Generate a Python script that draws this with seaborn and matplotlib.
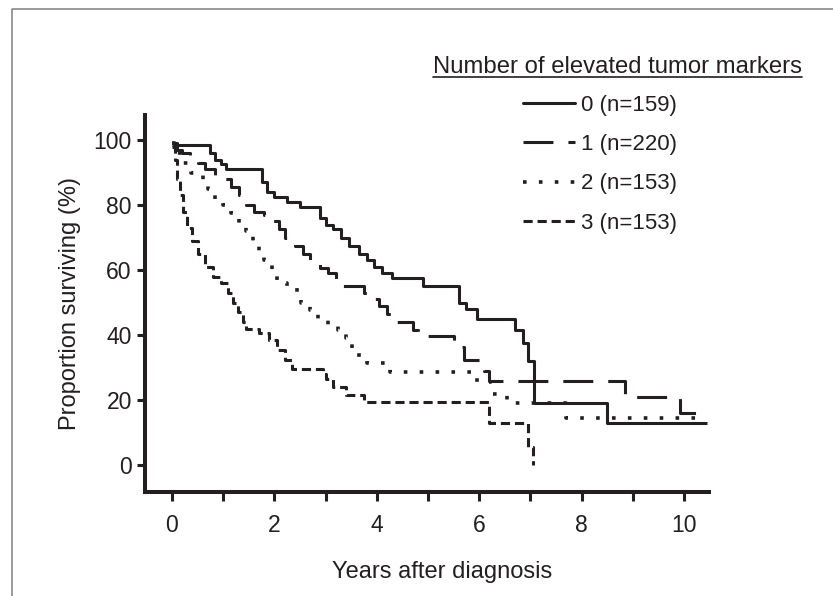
#!/usr/bin/env python3
"""
Kaplan-Meier style survival curves by number of elevated tumor markers.
"""

import numpy as np
import pandas as pd
import matplotlib
matplotlib.use('Agg')
import matplotlib.pyplot as plt
from matplotlib.lines import Line2D
import seaborn as sns

# Step curves: time (years) of each step and survival (%) after it
t0 = [0, 0.75, 0.85, 0.95, 1.05, 1.75, 1.85, 2.0, 2.25, 2.5, 2.9, 3.0, 3.15, 3.3,
      3.45, 3.65, 3.8, 3.95, 4.1, 4.3, 4.9, 5.6, 5.75, 5.95, 6.7, 6.85, 6.95, 7.07, 8.5, 10.45]
s0 = [98.5, 96, 94, 92.5, 91, 87, 84, 82.5, 81, 79.5, 76, 74, 72.5, 70,
      67.5, 65, 63, 61, 59, 57.5, 55, 50, 48, 45, 41.5, 37.5, 32, 19, 13, 13]

t1 = [0, 0.1, 0.2, 0.35, 0.5, 0.65, 0.85, 1.0, 1.15, 1.3, 1.45, 1.6, 1.8, 1.95, 2.1,
      2.2, 2.4, 2.55, 2.7, 2.9, 3.05, 3.2, 3.25, 3.75, 3.9, 4.05, 4.2, 4.32, 4.7, 4.8,
      5.5, 5.7, 6.05, 6.1, 6.2, 8.85, 9.92, 10.45]
s1 = [99, 97, 96, 94, 93, 91, 89, 88, 85.5, 83, 80, 78, 77, 75, 72.5,
      70, 67.5, 65, 62.5, 60.5, 59, 57, 55, 53, 51, 49, 46.5, 44, 41.5, 39.7,
      36.3, 32.3, 31, 29, 26, 21, 16, 16]

t2 = [0, 0.1, 0.2, 0.38, 0.6, 0.7, 0.85, 1.0, 1.15, 1.3, 1.45, 1.58, 1.7, 1.8, 1.95,
      2.05, 2.25, 2.45, 2.52, 2.7, 2.85, 3.05, 3.25, 3.4, 3.52, 3.65, 3.8, 4.25, 5.95,
      6.25, 6.55, 7.7, 10.4]
s2 = [99, 96, 93, 90, 87, 85, 82, 80, 77.5, 74.5, 72, 69, 66, 63, 59,
      56, 55, 53, 50, 47.7, 44.6, 43, 41.5, 39, 36, 33, 31.4, 28.6, 25.5,
      22, 19, 14.5, 14.5]

t3 = [0, 0.05, 0.1, 0.15, 0.22, 0.3, 0.4, 0.5, 0.65, 0.8, 0.95, 1.1, 1.2, 1.28, 1.38,
      1.45, 1.7, 1.9, 2.05, 2.2, 2.35, 2.95, 3.0, 3.15, 3.4, 3.75, 6.2, 6.95, 7.05]
s3 = [98, 94, 88, 83, 78, 73, 69, 65, 61, 58, 56, 53, 50, 47, 44,
      42, 40.5, 38.5, 35.5, 32.3, 29.5, 28, 26.5, 24, 21.5, 19.5, 13, 5.5, 0]

groups = ['0 (n=159)', '1 (n=220)', '2 (n=153)', '3 (n=153)']
x_ticks = [0, 2, 4, 6, 8, 10]
y_ticks = [0, 20, 40, 60, 80, 100]

ink = '#231f20'
lw = 2.2
line_styles = {
    groups[0]: '-',
    groups[1]: (0, (9.8, 4.9)),
    groups[2]: (0, (1, 3.4)),
    groups[3]: (0, (3.0, 1.6)),
}
line_widths = {groups[0]: lw, groups[1]: lw, groups[2]: 2.6, groups[3]: lw}


def build_frame():
    frames = []
    for name, t, s in zip(groups, [t0, t1, t2, t3], [s0, s1, s2, s3]):
        frames.append(pd.DataFrame({'years': t, 'surv': s, 'group': name}))
    return pd.concat(frames, ignore_index=True)


def main():
    df = build_frame()

    sns.set_style('ticks')
    plt.rcParams['font.family'] = ['Liberation Sans', 'DejaVu Sans']
    plt.rcParams['text.color'] = ink
    plt.rcParams['axes.labelcolor'] = ink
    plt.rcParams['xtick.color'] = ink
    plt.rcParams['ytick.color'] = ink

    fig = plt.figure(figsize=(8.33, 5.96), dpi=100)
    ax = fig.add_axes([145 / 833, 1 - 492 / 596, 564 / 833, 377 / 596])

    for name in groups:
        sub = df[df['group'] == name]
        sns.lineplot(data=sub, x='years', y='surv', ax=ax, drawstyle='steps-post',
                     estimator=None, sort=False, color=ink, lw=line_widths[name],
                     linestyle=line_styles[name], dash_capstyle='butt',
                     solid_capstyle='butt', legend=False)

    ax.set_xlim(-0.527, 10.49)
    ax.set_ylim(-8.3, 107.7)
    ax.set_xticks(x_ticks)
    ax.set_xticks([1, 3, 5, 7, 9], minor=True)
    ax.set_yticks(y_ticks)

    for side in ['top', 'right']:
        ax.spines[side].set_visible(False)
    for side in ['left', 'bottom']:
        ax.spines[side].set_linewidth(2.9)
        ax.spines[side].set_color(ink)

    ax.tick_params(axis='x', which='both', direction='out', length=6.5, width=2.2,
                   labelsize=16.5, pad=9)
    ax.tick_params(axis='y', which='both', direction='out', length=6, width=2.2,
                   labelsize=16.5, pad=3.5)

    ax.set_xlabel('Years after diagnosis', fontsize=17)
    ax.xaxis.set_label_coords(0.527, -0.183)
    ax.xaxis.label.set_va('top')
    ax.set_ylabel('Proportion surviving (%)', fontsize=17, labelpad=9)

    # Legend
    handles = [Line2D([0], [0], color=ink, lw=line_widths[g], linestyle=line_styles[g],
                      dash_capstyle='butt') for g in groups]
    fig.legend(handles, groups, loc='upper left',
               bbox_to_anchor=(523 / 833, 1 - 95 / 596), frameon=False,
               fontsize=16, handlelength=2.35, handletextpad=0.25,
               labelspacing=0.82, borderpad=0, borderaxespad=0)

    title = fig.text(433 / 833, 1 - 67 / 596, 'Number of elevated tumor markers',
                     fontsize=17.2, ha='left', va='center')
    fig.canvas.draw()
    bb = title.get_window_extent().transformed(fig.transFigure.inverted())
    fig.add_artist(Line2D([bb.x0, bb.x1], [bb.y0 + 0.002, bb.y0 + 0.002],
                          color=ink, lw=1.2, transform=fig.transFigure))

    # thin frame on the left and top edges, as in the source figure
    fig.add_artist(Line2D([12 / 833, 12 / 833, 1], [0, 1 - 9 / 596, 1 - 9 / 596],
                          color='#8a8a8a', lw=1.2, transform=fig.transFigure))

    fig.savefig('out.png', dpi=100)
    plt.close(fig)


if __name__ == '__main__':
    main()
